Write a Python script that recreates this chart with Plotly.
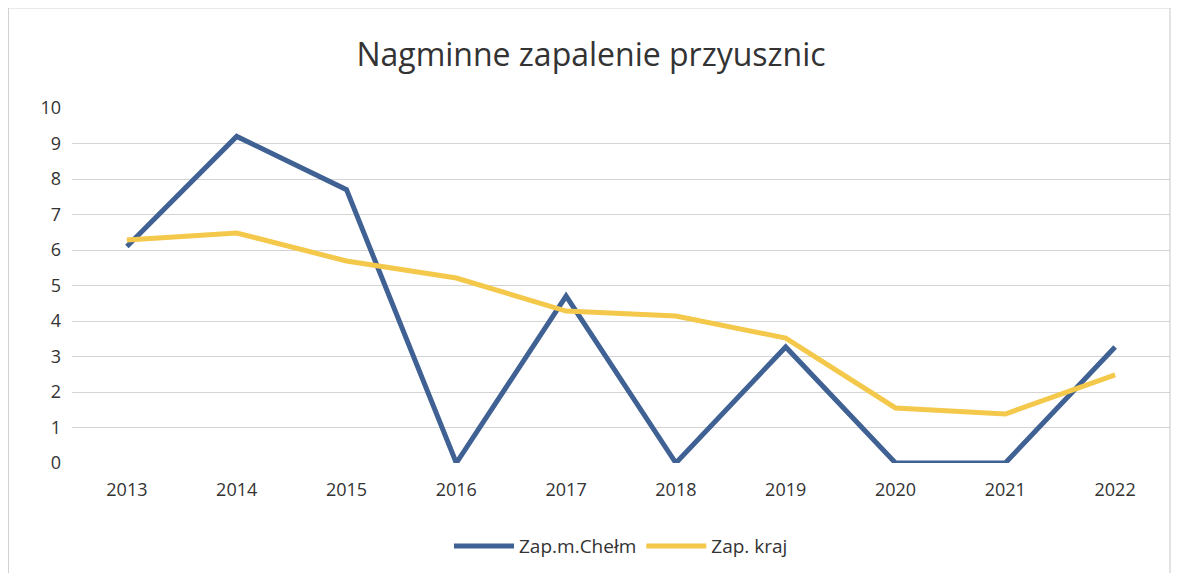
import plotly.graph_objects as go

years = ["2013", "2014", "2015", "2016", "2017", "2018", "2019", "2020", "2021", "2022"]
chelm = [6.1, 9.2, 7.7, 0, 4.7, 0, 3.27, 0, 0, 3.27]
kraj = [6.28, 6.48, 5.69, 5.21, 4.28, 4.14, 3.52, 1.55, 1.38, 2.48]
y_ticks = list(range(0, 11))

W, H = 1166, 565

fig = go.Figure()
fig.add_trace(go.Scatter(x=years, y=chelm, mode="lines", name="Zap.m.Chełm",
                         line=dict(color="#3f6193", width=5)))
fig.add_trace(go.Scatter(x=years, y=kraj, mode="lines", name="Zap. kraj",
                         line=dict(color="#f4c84a", width=5)))

fig.update_layout(
    width=W, height=H,
    margin=dict(l=64, r=4, t=100, b=110),
    paper_bgcolor="white", plot_bgcolor="white",
    font=dict(family="Open Sans, sans-serif", color="#404040"),
    title=dict(text="Nagminne zapalenie przyusznic", x=0.5, xanchor="center",
               y=1 - 47 / H, yanchor="middle",
               font=dict(size=32, color="#333333", family="Open Sans, sans-serif")),
    showlegend=True,
    legend=dict(orientation="h", x=0.5, xanchor="center", y=-0.234, yanchor="middle",
                font=dict(size=19, color="#333333"), itemwidth=60),
    xaxis=dict(type="category", range=[-0.5, 9.5], showgrid=False, showline=False,
               zeroline=False, tickfont=dict(size=18, color="#333333"), ticks="",
               ticklabelstandoff=14),
    yaxis=dict(range=[0, 10], tickvals=y_ticks, showgrid=True, gridcolor="#d4d4d4",
               gridwidth=1, zeroline=False, showline=False,
               tickfont=dict(size=18, color="#333333"), ticks="", ticklabelstandoff=10),
    shapes=[dict(type="rect", xref="paper", yref="paper",
                 x0=-0.058, x1=1.0, y0=-0.324, y1=1.282,
                 line=dict(color="#c8c8c8", width=1))],
)

fig.write_html("out.html")
